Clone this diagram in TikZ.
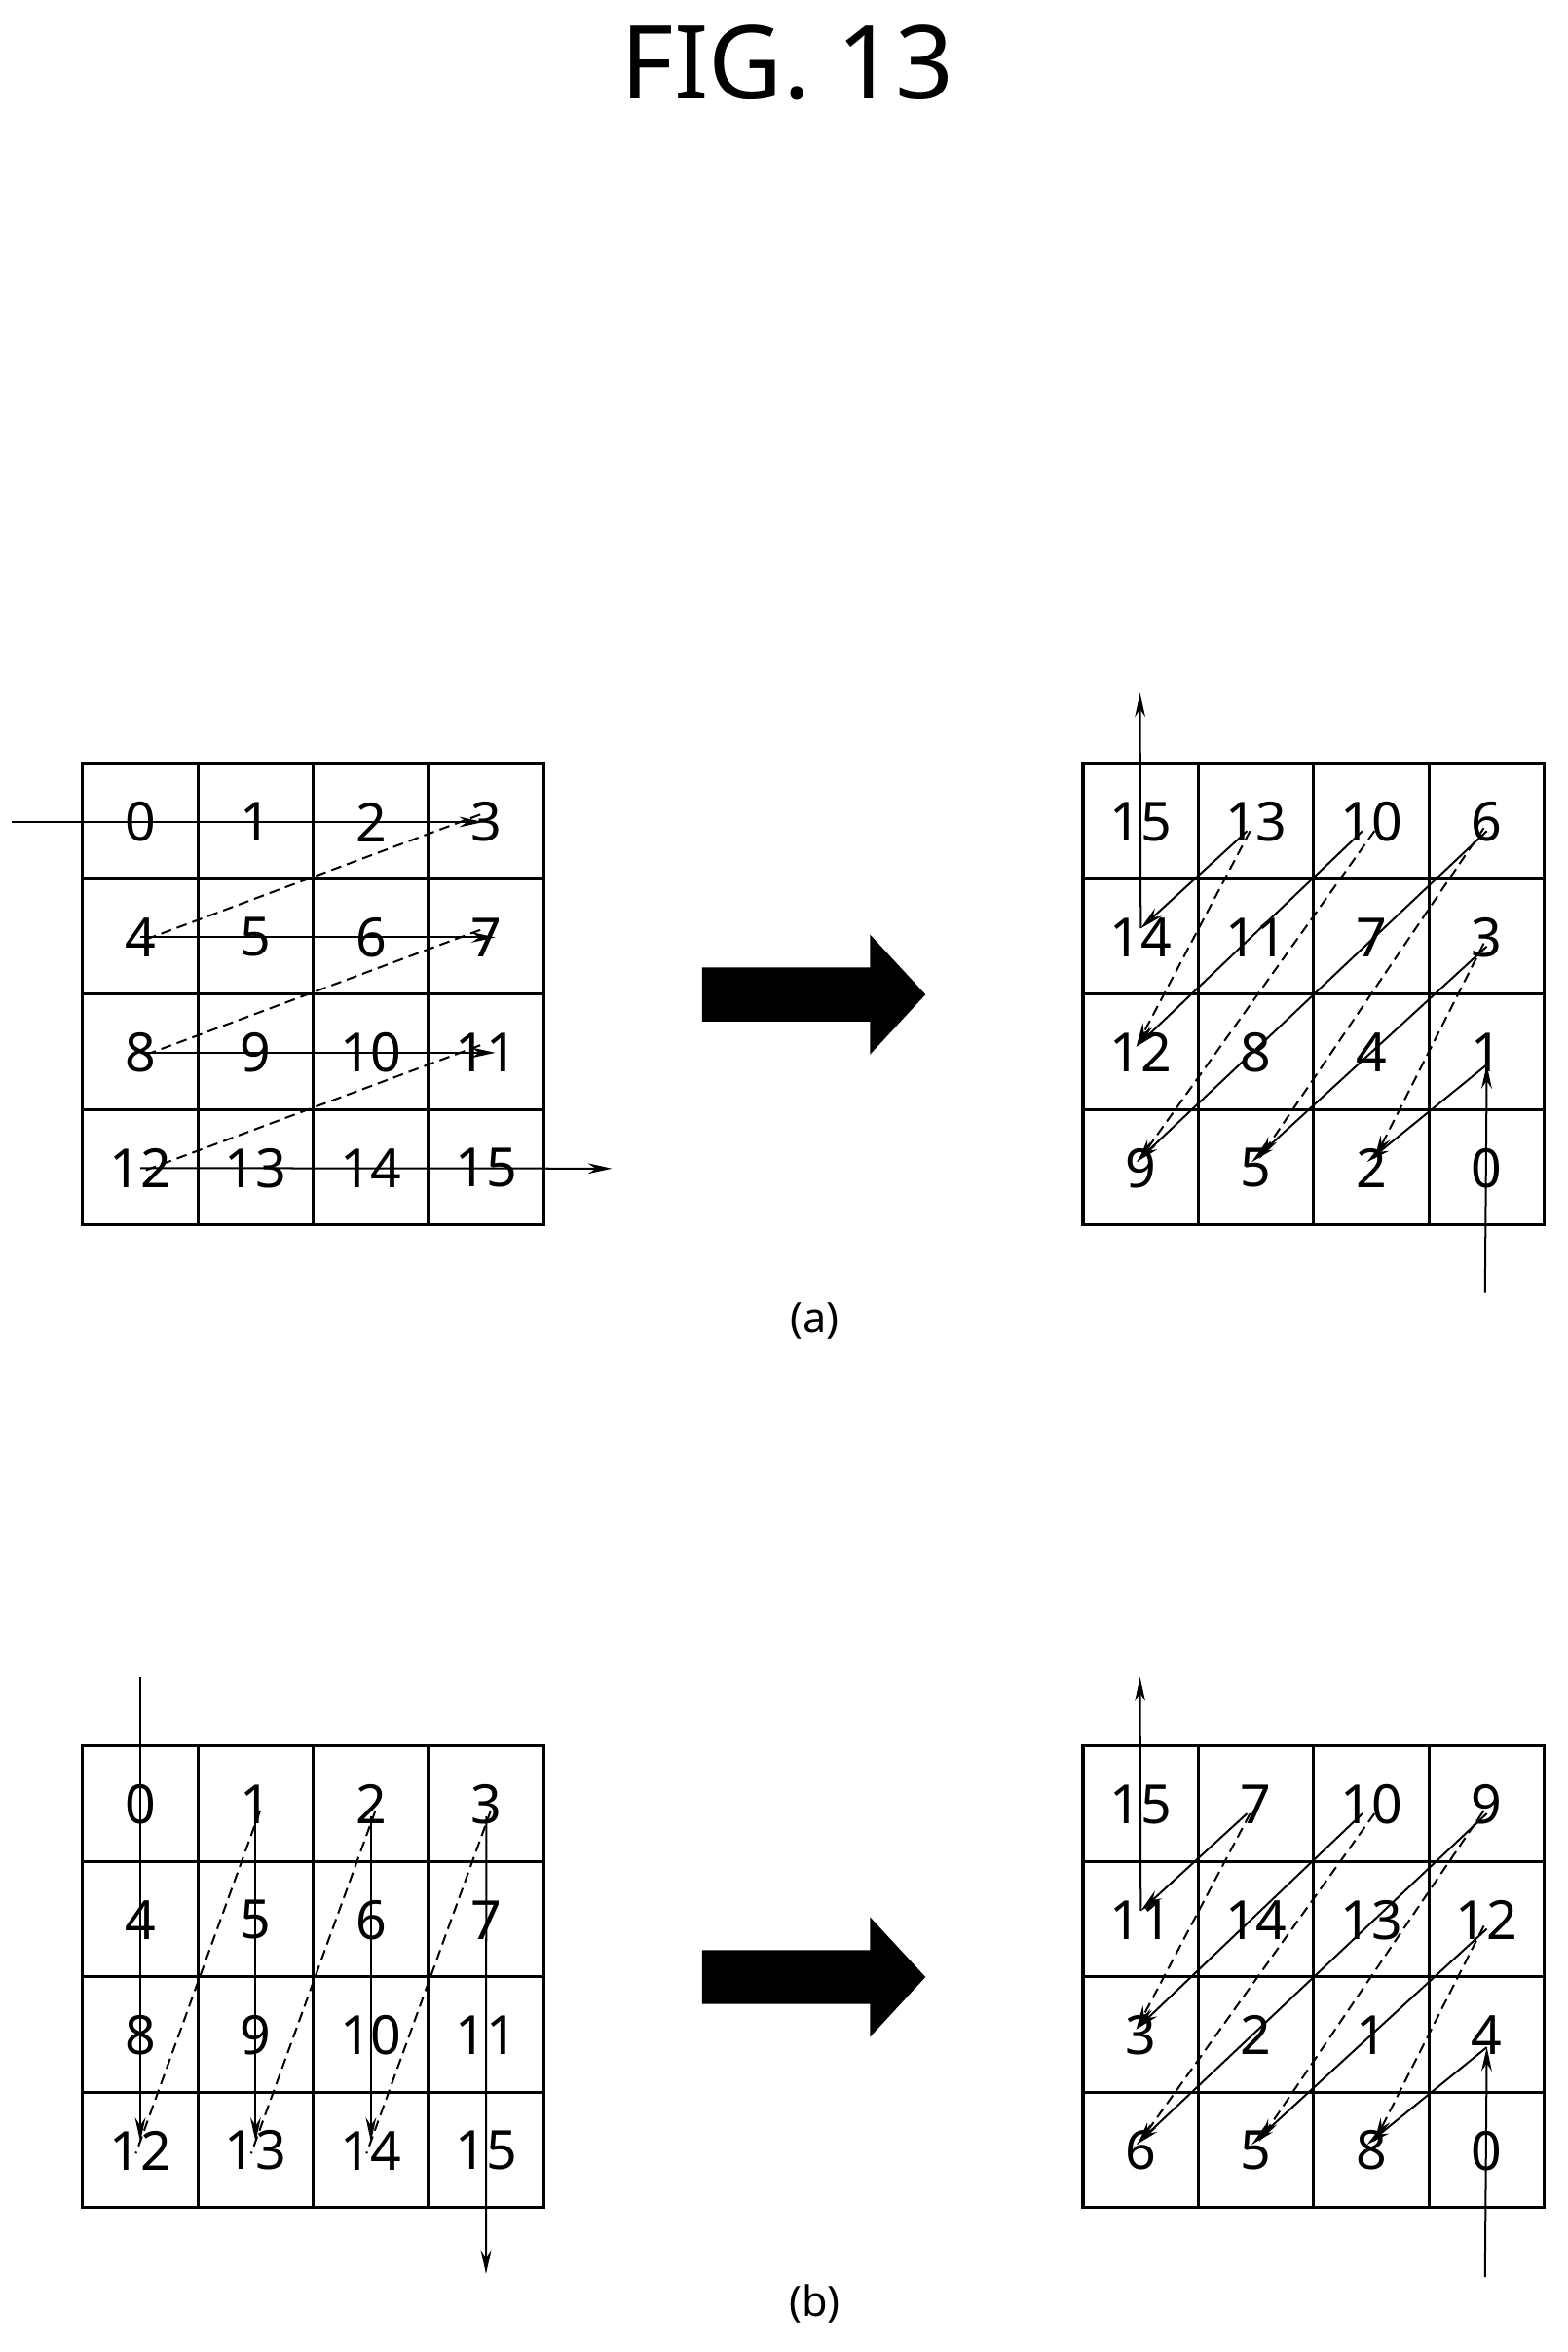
\documentclass[tikz,border=0pt]{standalone}
\usepackage{fontspec}
\setmainfont{Noto Sans}
\usetikzlibrary{arrows.meta}
\begin{document}
\begin{tikzpicture}[x=1pt,y=-1pt,
  grid/.style={line width=2pt},
  num/.style={font=\fontsize{36}{36}\selectfont, inner sep=0pt},
  sarr/.style={line width=1.3pt,-{Stealth[length=16pt,width=7pt]}},
  darr/.style={line width=1.3pt,dash pattern=on 7pt off 4pt,-{Stealth[length=16pt,width=7pt]}},
  dline/.style={line width=1.3pt,dash pattern=on 7pt off 4pt},
  big/.style={fill=black,draw=none}]
\useasboundingbox (0,0) rectangle (1045,1568);
\node[font=\fontsize{68}{68}\selectfont] (title) at (525,42) {FIG. 13};
\node[font=\fontsize{28}{28}\selectfont] (la) at (543,881) {(a)};
\node[font=\fontsize{28}{28}\selectfont] (lb) at (543,1536) {(b)};
% grids
\foreach \gx/\gy in {55/509,722/509,55/1164,722/1164}{
  \draw[grid] (\gx,\gy) rectangle ++(307.5,307.5);
  \foreach \i in {1,2,3}{
    \draw[grid] (\gx+\i*76.9,\gy) -- ++(0,307.5);
    \draw[grid] (\gx,\gy+\i*76.9) -- ++(307.5,0);}
}
% big arrows
\foreach \yy in {663,1318}{
  \fill[big] (468,\yy-18) -- (580,\yy-18) -- (580,\yy-40) -- (617,\yy) -- (580,\yy+40) -- (580,\yy+18) -- (468,\yy+18) -- cycle;}
% numbers: left (a)
\foreach \t [count=\k from 0] in {0,1,2,3,4,5,6,7,8,9,10,11,12,13,14,15}{
  \pgfmathtruncatemacro\r{div(\k,4)}\pgfmathtruncatemacro\c{mod(\k,4)}
  \node[num] (A\k) at (93.5+\c*76.9,548+\r*76.9) {\t};
  \coordinate (PA\r\c) at (93.5+\c*76.9,548+\r*76.9);
  \coordinate (PB\r\c) at (93.5+\c*76.9,1203+\r*76.9);
  \coordinate (QA\r\c) at (760.5+\c*76.9,548+\r*76.9);
  \coordinate (QB\r\c) at (760.5+\c*76.9,1203+\r*76.9);
  \node[num] (B\k) at (93.5+\c*76.9,1203+\r*76.9) {\t};
}
\foreach \t [count=\k from 0] in {15,13,10,6,14,11,7,3,12,8,4,1,9,5,2,0}{
  \pgfmathtruncatemacro\r{div(\k,4)}\pgfmathtruncatemacro\c{mod(\k,4)}
  \node[num] (C\k) at (760.5+\c*76.9,548+\r*76.9) {\t};}
\foreach \t [count=\k from 0] in {15,7,10,9,11,14,13,12,3,2,1,4,6,5,8,0}{
  \pgfmathtruncatemacro\r{div(\k,4)}\pgfmathtruncatemacro\c{mod(\k,4)}
  \node[num] (D\k) at (760.5+\c*76.9,1203+\r*76.9) {\t};}
% left (a) arrows
\coordinate (ainA) at (8,548);
\coordinate (aoutA) at (408,779);
\draw[sarr] (ainA) -- ([xshift=-2pt]PA03);
\draw[sarr] (PA10) -- ([xshift=6pt]PA13);
\draw[sarr] (PA20) -- ([xshift=6pt]PA23);
\draw[sarr] (PA30) -- (aoutA);
\draw[dline] ([xshift=-4pt,yshift=5pt]PA03) -- ([xshift=2pt,yshift=-2pt]PA10);
\draw[dline] ([xshift=-4pt,yshift=5pt]PA13) -- ([xshift=2pt,yshift=-2pt]PA20);
\draw[dline] ([xshift=-4pt,yshift=5pt]PA23) -- ([xshift=2pt,yshift=-2pt]PA30);
% left (b) arrows
\coordinate (binB) at (93.5,1118);
\coordinate (boutB) at (324,1516);
\draw[sarr] (binB) -- ([yshift=6pt]PB30);
\draw[sarr] ([yshift=-8pt]PB01) -- ([yshift=6pt]PB31);
\draw[sarr] ([yshift=-8pt]PB02) -- ([yshift=6pt]PB32);
\draw[sarr] ([yshift=-8pt]PB03) -- (boutB);
\draw[dline] ([xshift=3pt,yshift=-4pt]PB01) -- ([xshift=-3pt,yshift=-2pt]PB30);
\draw[dline] ([xshift=3pt,yshift=-4pt]PB02) -- ([xshift=-3pt,yshift=-2pt]PB31);
\draw[dline] ([xshift=3pt,yshift=-4pt]PB03) -- ([xshift=-3pt,yshift=-2pt]PB32);
% right grids
\foreach \Q/\ytop/\ybot in {QA/462/862,QB/1118/1518}{
  \coordinate (in\Q) at (990,\ybot);
  \coordinate (out\Q) at (760,\ytop);
  \draw[sarr] (in\Q) -- ([yshift=-8pt]\Q23);
  \draw[sarr] ([yshift=-8pt]\Q23) -- ([xshift=-3pt,yshift=4pt]\Q32);
  \draw[sarr] ([yshift=-6pt]\Q13) -- ([xshift=-3pt,yshift=4pt]\Q31);
  \draw[sarr] ([yshift=-6pt]\Q03) -- ([xshift=-3pt,yshift=4pt]\Q30);
  \draw[sarr] ([xshift=-6pt,yshift=-6pt]\Q02) -- ([xshift=-3pt,yshift=4pt]\Q20);
  \draw[sarr] ([xshift=-6pt,yshift=-6pt]\Q01) -- ([xshift=0pt,yshift=6pt]\Q10);
  \draw[sarr] ([yshift=6pt]\Q10) -- (out\Q);
  \draw[darr] ([xshift=-4pt,yshift=-6pt]\Q01) -- ([xshift=-3pt,yshift=4pt]\Q20);
  \draw[darr] ([xshift=2pt,yshift=-6pt]\Q02) -- ([xshift=-2pt,yshift=4pt]\Q30);
  \draw[darr] ([xshift=-2pt,yshift=-4pt]\Q03) -- ([xshift=2pt,yshift=6pt]\Q31);
  \draw[darr] ([xshift=-2pt,yshift=-4pt]\Q13) -- ([xshift=2pt,yshift=6pt]\Q32);
}
\end{tikzpicture}
\end{document}
